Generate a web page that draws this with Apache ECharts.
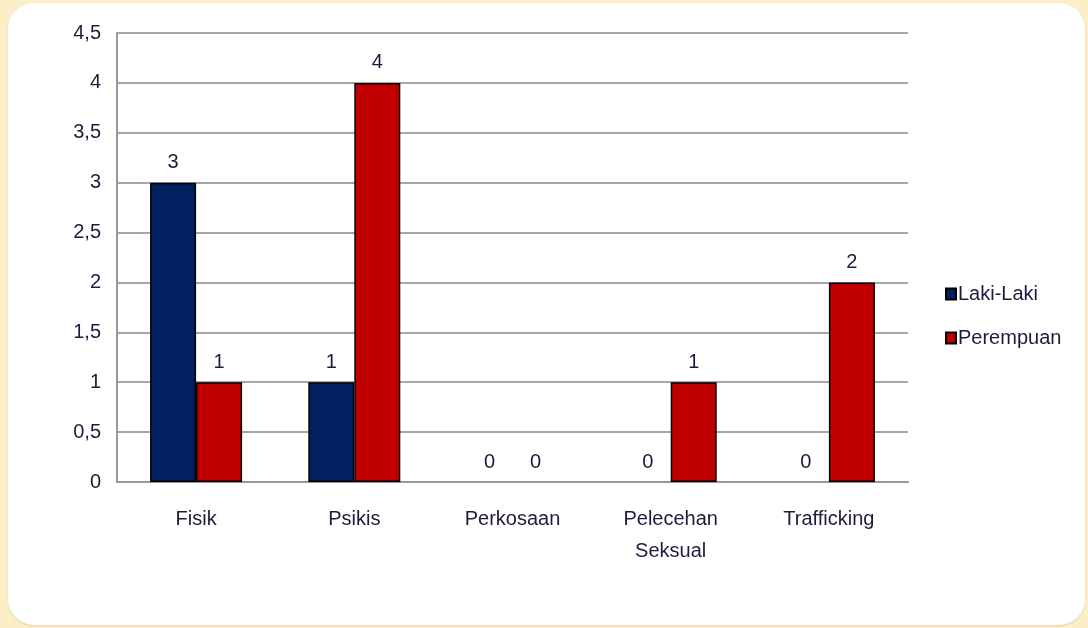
<!DOCTYPE html>
<html>
<head>
<meta charset="utf-8">
<script src="https://cdn.jsdelivr.net/npm/echarts@6/dist/echarts.min.js"></script>
<style>
  html, body { margin: 0; padding: 0; }
  body { width: 1088px; height: 628px; background: #fcefc8; position: relative; overflow: hidden; }
  .panel {
    position: absolute; left: 8px; top: 3px; width: 1077px; height: 622px;
    background: #ffffff; border-radius: 26px;
    box-shadow: 0 1px 2px rgba(0,0,0,0.12);
  }
  #chart { position: absolute; left: 0; top: 0; width: 1088px; height: 628px; }
</style>
</head>
<body>
<div class="panel"></div>
<div id="chart"></div>
<script>
const categories = ["Fisik", "Psikis", "Perkosaan", "Pelecehan\nSeksual", "Trafficking"];
const lakiLaki = [3, 1, 0, 0, 0];
const perempuan = [1, 4, 0, 1, 2];
const seriesNames = ["Laki-Laki", "Perempuan"];

const font = "'Liberation Sans Narrow', 'Arial Narrow', 'Liberation Sans', Arial, sans-serif";
const textColor = "#1c1c3c";

const chart = echarts.init(document.getElementById("chart"));

const labelStyle = {
  show: true,
  position: "top",
  distance: 10,
  color: textColor,
  fontSize: 20,
  fontFamily: font,
};

// zero bars: hide the black outline so nothing sits on the axis
const toItems = (arr) => arr.map((v) => (v === 0 ? { value: v, itemStyle: { borderWidth: 0 } } : v));

chart.setOption({
  animation: false,
  textStyle: { fontFamily: font },
  grid: { left: 117, right: 180, top: 33, bottom: 146 },
  legend: {
    orient: "vertical",
    left: 940,
    top: 279,
    itemWidth: 10,
    itemHeight: 11,
    itemGap: 24,
    icon: "rect",
    textStyle: { color: textColor, fontSize: 20, fontFamily: font, padding: [0, 0, 0, -3] },
    data: seriesNames,
  },
  xAxis: {
    type: "category",
    data: categories,
    axisLine: { lineStyle: { color: "#999999", width: 2 } },
    axisTick: { show: false },
    axisLabel: { color: textColor, fontSize: 20, fontFamily: font, margin: 21, lineHeight: 32 },
  },
  yAxis: {
    type: "value",
    min: 0,
    max: 4.5,
    interval: 0.5,
    axisLine: { show: true, lineStyle: { color: "#999999", width: 2 } },
    axisTick: { show: false },
    splitLine: { lineStyle: { color: "#a6a6a6", width: 2 } },
    axisLabel: {
      color: textColor,
      fontSize: 20,
      fontFamily: font,
      margin: 16,
      formatter: (v) => String(v).replace(".", ","),
    },
  },
  series: [
    {
      name: seriesNames[0],
      type: "bar",
      data: toItems(lakiLaki),
      barWidth: 46,
      barGap: "0%",
      itemStyle: { color: "#002060", borderColor: "#000000", borderWidth: 1.5 },
      label: labelStyle,
    },
    {
      name: seriesNames[1],
      type: "bar",
      data: toItems(perempuan),
      barWidth: 46,
      itemStyle: { color: "#c00000", borderColor: "#000000", borderWidth: 1.5 },
      label: labelStyle,
    },
  ],
});
</script>
</body>
</html>
